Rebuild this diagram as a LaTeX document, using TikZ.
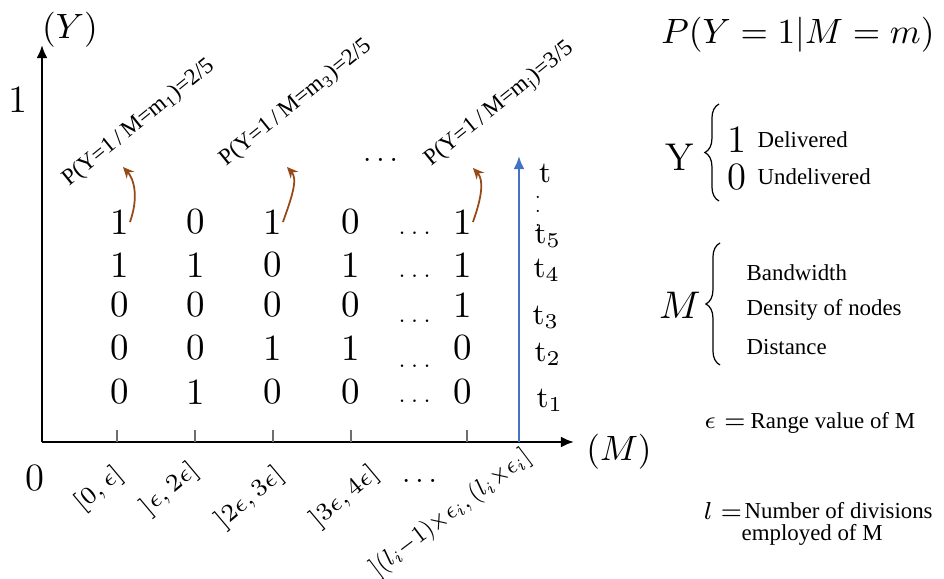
\documentclass[tikz,border=0pt]{standalone}
\usepackage{amsmath,amssymb,graphicx}
\usepackage{fontspec}
\newfontfamily\labfont{Liberation Serif}
\usetikzlibrary{arrows.meta,positioning,calc,decorations.pathreplacing}
\definecolor{probbrown}{RGB}{150,72,22}
\definecolor{timeblue}{RGB}{68,114,196}
\definecolor{tickgrey}{RGB}{110,110,110}
\tikzset{
  cell/.style={font=\fontsize{10.5}{12}\selectfont,inner sep=0pt},
  rowdots/.style={font=\fontsize{6.5}{7}\selectfont,inner sep=0pt},
  problab/.style={font=\labfont\fontsize{6.6}{7}\selectfont,rotate=39,inner sep=0pt},
  binlab/.style={font=\fontsize{7}{8}\selectfont,rotate=40,inner sep=0pt},
  tlab/.style={font=\fontsize{8.5}{9}\selectfont,inner sep=0pt},
  axlab/.style={font=\fontsize{10}{12}\selectfont,inner sep=0pt},
  keytxt/.style={font=\labfont\fontsize{6.5}{7.5}\selectfont,inner sep=0pt,anchor=west},
  keybig/.style={font=\fontsize{11}{12}\selectfont,inner sep=0pt},
  keyeq/.style={font=\fontsize{6.8}{8}\selectfont,inner sep=0pt},
  axisline/.style={-{Latex[length=1.3mm,width=1.1mm]},line width=0.75pt},
  tickline/.style={draw=tickgrey,line width=0.4pt},
  probarrow/.style={-{Stealth[length=1.1mm,width=1mm]},line width=0.5pt,draw=probbrown},
  timearrow/.style={-{Latex[length=1.3mm,width=1.1mm]},line width=0.7pt,draw=timeblue},
  keybrace/.style={decorate,decoration={brace,amplitude=4pt},line width=0.35pt}
}

\begin{document}
\begin{tikzpicture}[x=0.01cm,y=-0.01cm]
  \useasboundingbox (0,0) rectangle (944,579);
  % axes
  \coordinate (o) at (42,442);
  \coordinate (ytop) at (42,45);
  \coordinate (xend) at (574,442);
  \draw[axisline] (o) -- (ytop);
  \draw[axisline] (o) -- (xend);
  \node[axlab] (ylab) at (70,30) {$(Y)$};
  \node[axlab] (mlab) at (619,452) {$(M)$};
  \node[keybig] (one) at (18,100) {1};
  \node[keybig] (zero) at (35,478) {0};
  % ticks
  \coordinate (tk1) at (117,442);
  \coordinate (tk2) at (195,442);
  \coordinate (tk3) at (273,442);
  \coordinate (tk4) at (351,442);
  \coordinate (tk5) at (467,442);
  \draw[tickline] (tk1) -- ++(0,-12);
  \draw[tickline] (tk2) -- ++(0,-12);
  \draw[tickline] (tk3) -- ++(0,-12);
  \draw[tickline] (tk4) -- ++(0,-12);
  \draw[tickline] (tk5) -- ++(0,-12);
  % bins
  \node[binlab] (b1) at (99,489) {$[0,\epsilon]$};
  \node[binlab] (b2) at (170,489) {$]\epsilon,2\epsilon]$};
  \node[binlab] (b3) at (250,498) {$]2\epsilon,3\epsilon]$};
  \node[binlab] (b4) at (345,497) {$]3\epsilon,4\epsilon]$};
  \node[rowdots,font=\fontsize{8}{9}\selectfont] (bd) at (422,481) {$\dots$};
  \node[binlab,rotate=-3] (b5) at (451,513) {\scalebox{0.85}[1]{\fontsize{6.6}{7}\selectfont$](l_i{-}1){\times}\epsilon_i,(l_i{\times}\epsilon_i]$}};
  % observations
  \node[cell] (r1c1) at (120,222) {1}; \node[cell] (r1c2) at (196,222) {0}; \node[cell] (r1c3) at (273,222) {1}; \node[cell] (r1c4) at (351,222) {0}; \node[cell] (r1c5) at (463,222) {1};
  \node[cell] (r2c1) at (120,265) {1}; \node[cell] (r2c2) at (196,265) {1}; \node[cell] (r2c3) at (273,265) {0}; \node[cell] (r2c4) at (351,265) {1}; \node[cell] (r2c5) at (463,265) {1};
  \node[cell] (r3c1) at (120,305) {0}; \node[cell] (r3c2) at (196,305) {0}; \node[cell] (r3c3) at (273,305) {0}; \node[cell] (r3c4) at (351,305) {0}; \node[cell] (r3c5) at (463,305) {1};
  \node[cell] (r4c1) at (120,348) {0}; \node[cell] (r4c2) at (196,348) {0}; \node[cell] (r4c3) at (273,348) {1}; \node[cell] (r4c4) at (351,348) {1}; \node[cell] (r4c5) at (463,348) {0};
  \node[cell] (r5c1) at (120,392) {0}; \node[cell] (r5c2) at (196,392) {1}; \node[cell] (r5c3) at (273,392) {0}; \node[cell] (r5c4) at (351,392) {0}; \node[cell] (r5c5) at (463,392) {0};
  \node[rowdots] (d1) at (417,233) {$\dots$};
  \node[rowdots] (d2) at (417,276) {$\dots$};
  \node[rowdots] (d3) at (417,321) {$\dots$};
  \node[rowdots] (d4) at (417,366) {$\dots$};
  \node[rowdots] (d5) at (417,401) {$\dots$};
  \node[rowdots,font=\fontsize{8}{9}\selectfont] (dtop) at (383,160) {$\dots$};
  % probabilities
  \node[problab] (p1) at (139,123) {P(Y=1\,/\,M=m\textsubscript{1})=2/5};
  \node[problab] (p3) at (296,103) {P(Y=1\,/\,M=m\textsubscript{3})=2/5};
  \node[problab] (pj) at (500,105) {P(Y=1\,/\,M=m\textsubscript{j})=3/5};
  \coordinate (h1) at (123,167);
  \coordinate (h3) at (287,167);
  \coordinate (hj) at (473,168);
  \draw[probarrow] (r1c1.east) .. controls +(9,-25) and +(11,12) .. (h1);
  \draw[probarrow] (r1c3.east) .. controls +(9,-25) and +(11,12) .. (h3);
  \draw[probarrow] (r1c5.east) .. controls +(9,-25) and +(11,12) .. (hj);
  % time
  \coordinate (tb) at (519,442);
  \coordinate (tt) at (519,156);
  \draw[timearrow] (tb) -- (tt);
  \node[tlab] (t0) at (545,173) {t};
  \node[tlab] (tv) at (538,201) {\fontsize{5}{5}\selectfont$\vdots$};
  \node[tlab] (t5) at (548,236) {t$_5$};
  \node[tlab] (t4) at (547,270) {t$_4$};
  \node[tlab] (t3) at (546,317) {t$_3$};
  \node[tlab] (t2) at (548,354) {t$_2$};
  \node[tlab] (t1) at (550,400) {t$_1$};
  % key
  \node[font=\fontsize{9.6}{11}\selectfont,inner sep=0pt] (cond) at (798,35) {$P(Y=1|M=m)$};
  \node[keybig] (ykey) at (680,157) {Y};
  \draw[keybrace] (719,201) -- (719,104);
  \node[keybig] (yone) at (737,140) {1};
  \node[keybig] (yzero) at (737,177) {0};
  \node[keytxt] (deliv) at (757,140) {Delivered};
  \node[keytxt] (undeliv) at (757,177) {Undelivered};
  \node[keybig] (mkey) at (680,305) {$M$};
  \draw[keybrace] (720,365) -- (720,243);
  \node[keytxt] (bw) at (746,273) {Bandwidth};
  \node[keytxt] (dens) at (746,310) {Density of nodes};
  \node[keytxt] (dist) at (746,347) {Distance};
  \node[keyeq] (epskey) at (725,423) {$\epsilon=$};
  \node[keytxt] (range) at (750,423) {Range value of M};
  \node[keyeq] (lkey) at (723,511) {$l=$};
  \node[keytxt] (ndiv) at (744,511) {Number of divisions};
  \node[keytxt] (empl) at (741,535) {employed of M};
\end{tikzpicture}
\end{document}
